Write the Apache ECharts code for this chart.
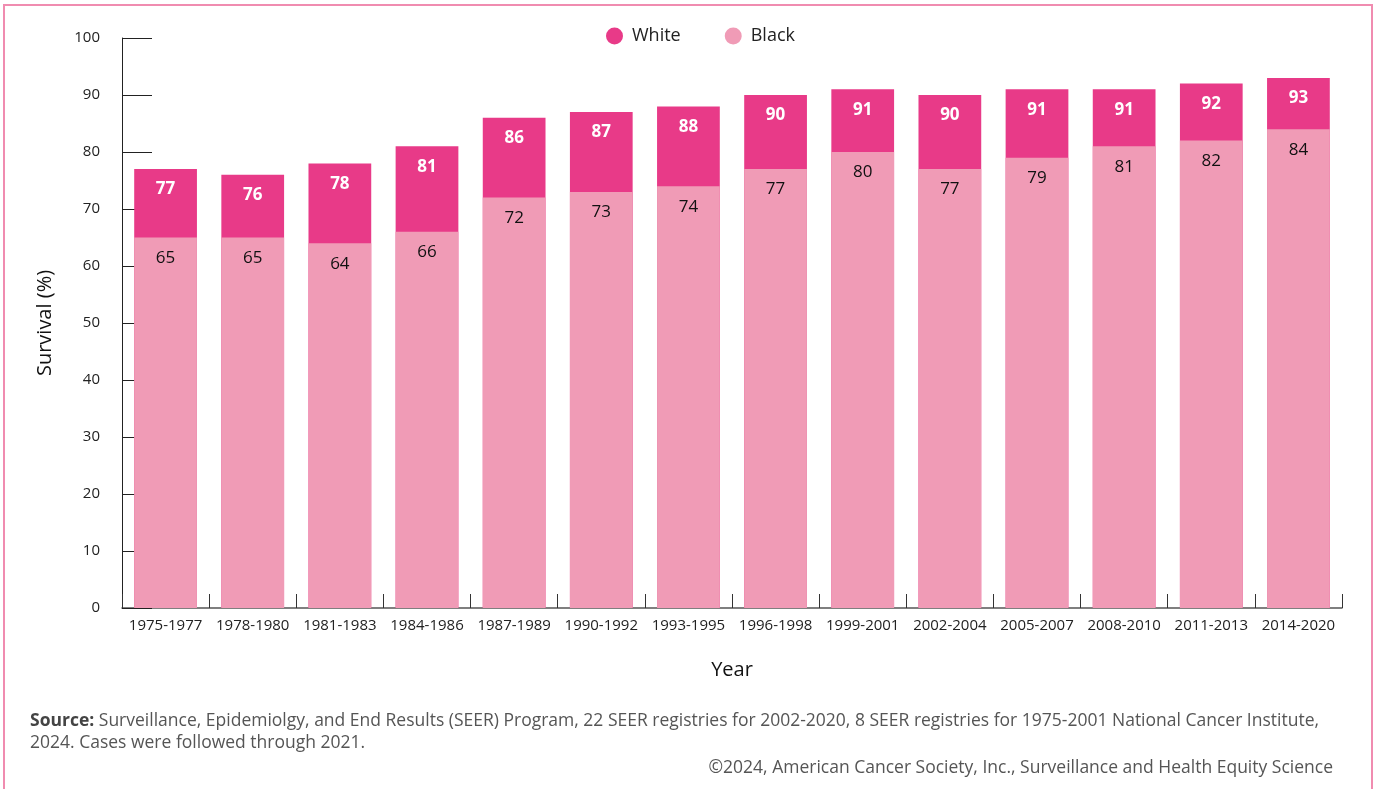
<!DOCTYPE html>
<html>
<head>
<meta charset="utf-8">
<script src="https://cdn.jsdelivr.net/npm/echarts@6/dist/echarts.min.js"></script>
<style>
  html, body { margin: 0; padding: 0; background: #fff; }
  #frame { position: absolute; left: 3px; top: 4px; width: 1370px; height: 800px; border: 2px solid #f08cb0; border-bottom: none; box-sizing: border-box; }
  #chart { position: absolute; left: 0; top: 0; width: 1376px; height: 789px; }
</style>
</head>
<body>
<div id="frame"></div>
<div id="chart"></div>
<script>
// Five-year relative survival (%) by diagnosis period
const periods = ['1975-1977', '1978-1980', '1981-1983', '1984-1986', '1987-1989', '1990-1992', '1993-1995',
  '1996-1998', '1999-2001', '2002-2004', '2005-2007', '2008-2010', '2011-2013', '2014-2020'];
const whiteSurvival = [77, 76, 78, 81, 86, 87, 88, 90, 91, 90, 91, 91, 92, 93];
const blackSurvival = [65, 65, 64, 66, 72, 73, 74, 77, 80, 77, 79, 81, 82, 84];
const yTicks = [0, 10, 20, 30, 40, 50, 60, 70, 80, 90, 100];

const FONT = '"Open Sans", "Noto Sans", sans-serif';
const chart = echarts.init(document.getElementById('chart'), null, { renderer: 'canvas' });

chart.setOption({
  animation: false,
  textStyle: { fontFamily: FONT },
  title: [
    {
      left: 25, top: 705,
      text: '{b|Source:} Surveillance, Epidemiolgy, and End Results (SEER) Program, 22 SEER registries for 2002-2020, 8 SEER registries for 1975-2001 National Cancer Institute,\n2024. Cases were followed through 2021.',
      textStyle: {
        fontFamily: FONT, fontSize: 17.5, fontWeight: 'normal', color: '#555', lineHeight: 22,
        rich: { b: { fontFamily: FONT, fontSize: 17.5, fontWeight: 'bold', color: '#444' } }
      }
    },
    {
      right: 38, top: 754,
      text: '©2024, American Cancer Society, Inc., Surveillance and Health Equity Science',
      textStyle: { fontFamily: FONT, fontSize: 17.5, fontWeight: 'normal', color: '#555' }
    }
  ],
  legend: {
    top: 22, left: 601, itemGap: 44,
    icon: 'circle', itemWidth: 17, itemHeight: 17,
    textStyle: { fontFamily: FONT, fontSize: 18, color: '#222', padding: [0, 0, 0, 4] },
    data: ['White', 'Black']
  },
  grid: { left: 122, right: 34, top: 38, bottom: 181, containLabel: false },
  xAxis: {
    type: 'category',
    data: periods,
    name: 'Year', nameLocation: 'middle', nameGap: 52,
    nameTextStyle: { fontFamily: FONT, fontSize: 20, color: '#111' },
    axisLine: { lineStyle: { color: '#555', width: 1.5 } },
    axisTick: { show: true, inside: true, length: 14, lineStyle: { color: '#333' } },
    axisLabel: { fontFamily: FONT, fontSize: 15, color: '#222', margin: 10, interval: 0 }
  },
  yAxis: {
    type: 'value', min: 0, max: 100, interval: 10,
    name: 'Survival (%)', nameLocation: 'middle', nameGap: 67, nameRotate: 90,
    nameTextStyle: { fontFamily: FONT, fontSize: 20, color: '#111' },
    axisLine: { show: true, lineStyle: { color: '#222', width: 1 } },
    axisTick: { show: true, inside: true, length: 30, lineStyle: { color: '#222' } },
    splitLine: { show: false },
    axisLabel: {
      fontFamily: FONT, fontSize: 15, color: '#222', margin: 22,
      verticalAlign: 'middle', padding: [0, 0, 10, 0],
      formatter: v => yTicks.includes(v) ? String(v) : ''
    }
  },
  series: [
    {
      name: 'White', type: 'bar', data: whiteSurvival,
      barWidth: '72%', barGap: '-100%',
      itemStyle: { color: '#e83a88' },
      label: {
        show: true, position: 'insideTop', distance: 12,
        fontFamily: FONT, fontSize: 17, fontWeight: 'bold', color: '#fff'
      },
      z: 2
    },
    {
      name: 'Black', type: 'bar', data: blackSurvival,
      barWidth: '72%', barGap: '-100%',
      itemStyle: { color: '#f09bb6' },
      label: {
        show: true, position: 'insideTop', distance: 12,
        fontFamily: FONT, fontSize: 17, color: '#111'
      },
      z: 3
    }
  ]
});
</script>
</body>
</html>
